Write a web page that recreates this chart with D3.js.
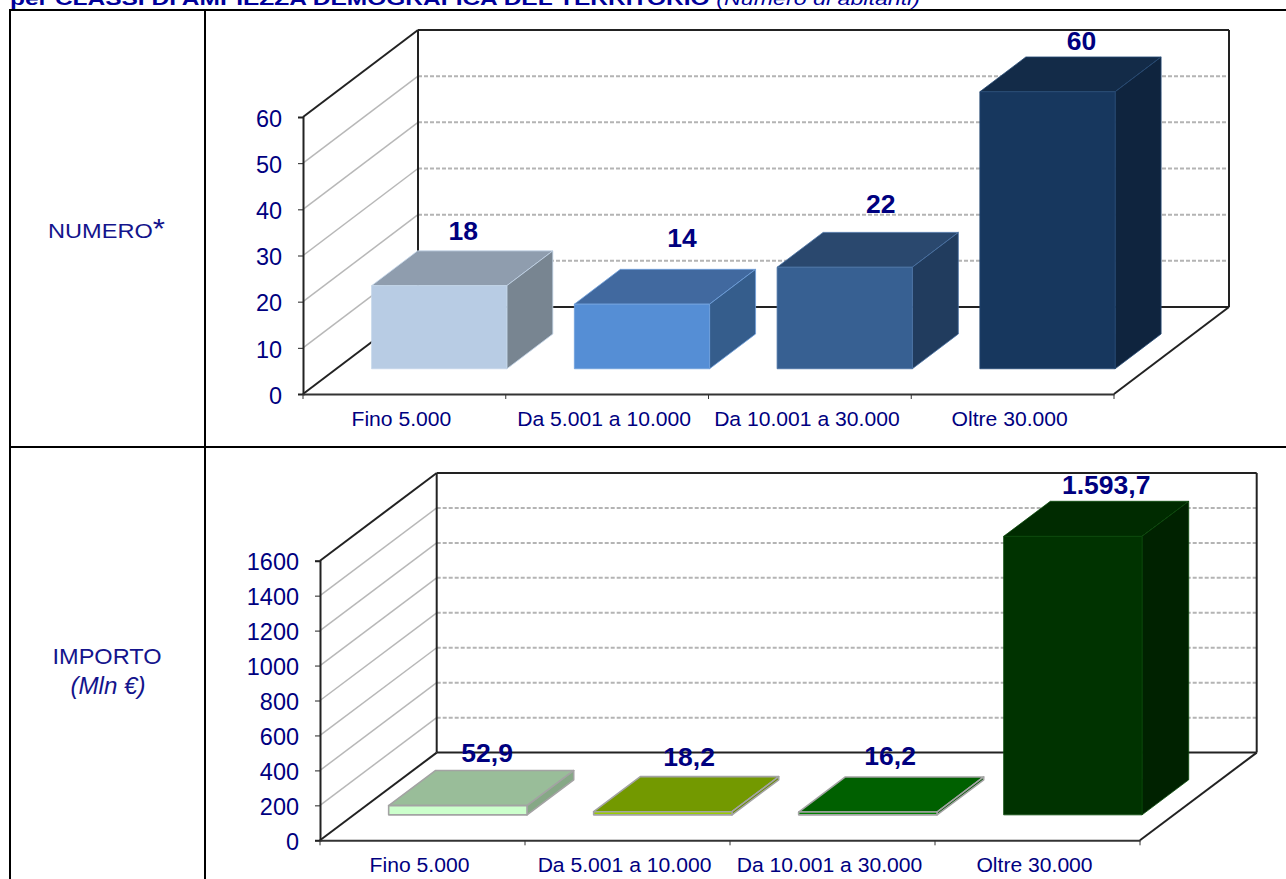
<!DOCTYPE html>
<html>
  <head>
    <meta charset="utf-8">
    <style>
      body { margin: 0; background: #fff; }
      text { font-family: "Liberation Sans", Arial, sans-serif; }
    </style>
  </head>
  <body>
    <svg id="chart" width="1286" height="879"></svg>
  </body>
  <script src="https://d3js.org/d3.v7.min.js"></script>
  <script type="text/javascript">
    var categories = ["Fino 5.000", "Da 5.001 a 10.000", "Da 10.001 a 30.000", "Oltre 30.000"];
    var numeroValues = [18, 14, 22, 60];
    var importoValues = [52.9, 18.2, 16.2, 1593.7];
    var numeroTicks = [0, 10, 20, 30, 40, 50, 60];
    var importoTicks = [0, 200, 400, 600, 800, 1000, 1200, 1400, 1600];

    var NAVY = "#00007f";

    var it = d3.formatLocale({ decimal: ",", thousands: ".", grouping: [3], currency: ["", " €"] });
    var svg = d3.select("#chart");

    // the source picture is a bit wider than it is tall
    function stretch(sel, k) {
      sel.each(function() {
        this.setAttribute("textLength", this.getComputedTextLength() * k);
        this.setAttribute("lengthAdjust", "spacingAndGlyphs");
      });
      return sel;
    }

    // table grid
    var grid = svg.append("g").attr("stroke", "#000").attr("stroke-width", 2);
    grid.append("line").attr("x1", 9).attr("x2", 1286).attr("y1", 10).attr("y2", 10);
    grid.append("line").attr("x1", 9).attr("x2", 1286).attr("y1", 447).attr("y2", 447);
    grid.append("line").attr("x1", 10).attr("x2", 10).attr("y1", 10).attr("y2", 879);
    grid.append("line").attr("x1", 205).attr("x2", 205).attr("y1", 10).attr("y2", 879);

    // title, cut by the top of the page as in the source
    var title = svg.append("text").attr("x", 10).attr("y", 5).attr("font-size", 19).attr("fill", "#000099");
    title.append("tspan").attr("font-weight", "bold").text("per CLASSI DI AMPIEZZA DEMOGRAFICA DEL TERRITORIO ");
    title.append("tspan").attr("font-style", "italic").attr("font-size", 18).text("(Numero di abitanti)");
    title.attr("textLength", 910).attr("lengthAdjust", "spacingAndGlyphs");

    // row headers
    var numLabel = svg.append("text").attr("x", 48).attr("y", 238).attr("font-size", 21).attr("fill", "#14148c");
    numLabel.append("tspan").text("NUMERO");
    numLabel.append("tspan").attr("font-size", 28).attr("dy", 0).text("*");
    numLabel.attr("textLength", 117).attr("lengthAdjust", "spacingAndGlyphs");
    stretch(svg.append("text").attr("x", 107).attr("y", 664).attr("text-anchor", "middle")
      .attr("font-size", 22).attr("fill", "#14148c").text("IMPORTO"), 1.07);
    stretch(svg.append("text").attr("x", 108).attr("y", 694).attr("text-anchor", "middle")
      .attr("font-size", 23).attr("font-style", "italic").attr("fill", "#14148c").text("(Mln €)"), 1.05);

    function drawChart(cfg) {
      var g = svg.append("g");
      var x = d3.scaleBand().domain(categories).range([cfg.left, cfg.right]);
      var y = d3.scaleLinear().domain([0, cfg.ticks[cfg.ticks.length - 1]]).range([cfg.bottom, cfg.top]);
      var band = x.bandwidth();

      // d is depth: 0 is the front plane, 1 the back wall
      function px(a, d) { return a + d * cfg.dx; }
      function py(a, d) { return a - d * cfg.dy; }
      function pts(list) {
        return list.map(function(p) { return px(p[0], p[2]) + "," + py(p[1], p[2]); }).join(" ");
      }

      var inner = cfg.ticks.slice(1, -1);

      // side wall lines
      g.selectAll(".side").data(inner).enter().append("line")
        .attr("x1", cfg.left).attr("y1", function(d) { return y(d); })
        .attr("x2", px(cfg.left, 1)).attr("y2", function(d) { return py(y(d), 1); })
        .attr("stroke", "#b8b8b8").attr("stroke-width", 1.5);

      // back wall dashed lines
      g.selectAll(".back").data(inner).enter().append("line")
        .attr("x1", px(cfg.left, 1)).attr("y1", function(d) { return py(y(d), 1); })
        .attr("x2", px(cfg.right, 1)).attr("y2", function(d) { return py(y(d), 1); })
        .attr("stroke", "#b4b4b4").attr("stroke-width", 2).attr("stroke-dasharray", "4,2");

      // box edges
      var edges = [
        [cfg.left, cfg.top, 0, cfg.left, cfg.top, 1],
        [cfg.left, cfg.bottom, 0, cfg.left, cfg.bottom, 1],
        [cfg.right, cfg.bottom, 0, cfg.right, cfg.bottom, 1],
        [cfg.left, cfg.top, 1, cfg.right, cfg.top, 1],
        [cfg.left, cfg.bottom, 1, cfg.right, cfg.bottom, 1],
        [cfg.left, cfg.top, 1, cfg.left, cfg.bottom, 1],
        [cfg.right, cfg.top, 1, cfg.right, cfg.bottom, 1]
      ];
      g.selectAll(".edge").data(edges).enter().append("line")
        .attr("x1", function(e) { return px(e[0], e[2]); })
        .attr("y1", function(e) { return py(e[1], e[2]); })
        .attr("x2", function(e) { return px(e[3], e[5]); })
        .attr("y2", function(e) { return py(e[4], e[5]); })
        .attr("stroke", "#222").attr("stroke-width", 2);

      // axes
      var yAxis = g.append("g").attr("transform", "translate(" + cfg.left + ",0)")
        .call(d3.axisLeft(y).tickValues(cfg.ticks).tickFormat(d3.format("d")).tickSize(5).tickPadding(cfg.tickPad));
      var xAxis = g.append("g").attr("transform", "translate(0," + cfg.bottom + ")")
        .call(d3.axisBottom(x).tickSize(0).tickPadding(17.5));
      yAxis.selectAll("path,line").attr("stroke", "#222").attr("stroke-width", 1);
      yAxis.select("path").attr("stroke-width", 2);
      xAxis.select("path").attr("stroke", "#333").attr("stroke-width", 2);
      yAxis.selectAll("text").attr("font-size", 23).attr("fill", NAVY).attr("dy", "0.4em");
      xAxis.selectAll("text").attr("font-size", 20.5).attr("fill", NAVY).attr("dx", -3);
      stretch(yAxis.selectAll("text"), 1.02);
      stretch(xAxis.selectAll("text"), 1.03);

      // x ticks sit on the band edges
      xAxis.selectAll(".edgeTick").data(categories.concat(["end"])).enter().append("line")
        .attr("x1", function(d, i) { return cfg.left + i * band; })
        .attr("x2", function(d, i) { return cfg.left + i * band; })
        .attr("y1", 0).attr("y2", 5).attr("stroke", "#333").attr("stroke-width", 1);

      // bars
      var barW = band * cfg.barShare;
      var d0 = cfg.barFront, d1 = cfg.barFront + cfg.barDepth;
      var bars = g.selectAll(".bar").data(cfg.values).enter().append("g");

      function xl(i) { return x(categories[i]) + (band - barW) / 2 + cfg.barShift; }

      bars.append("polygon") // top
        .attr("points", function(v, i) {
          return pts([[xl(i), y(v), d0], [xl(i) + barW, y(v), d0], [xl(i) + barW, y(v), d1], [xl(i), y(v), d1]]);
        })
        .attr("fill", function(v, i) { return cfg.colors[i][1]; });
      bars.append("polygon") // side
        .attr("points", function(v, i) {
          return pts([[xl(i) + barW, y(0), d0], [xl(i) + barW, y(v), d0], [xl(i) + barW, y(v), d1], [xl(i) + barW, y(0), d1]]);
        })
        .attr("fill", function(v, i) { return cfg.colors[i][2]; });
      bars.append("polygon") // front
        .attr("points", function(v, i) {
          return pts([[xl(i), y(0), d0], [xl(i) + barW, y(0), d0], [xl(i) + barW, y(v), d0], [xl(i), y(v), d0]]);
        })
        .attr("fill", function(v, i) { return cfg.colors[i][0]; });
      bars.selectAll("polygon")
        .attr("stroke", function() {
          var i = cfg.values.indexOf(d3.select(this.parentNode).datum());
          return cfg.colors[i][3];
        })
        .attr("stroke-width", function() {
          var i = cfg.values.indexOf(d3.select(this.parentNode).datum());
          return cfg.colors[i][4];
        })
        .attr("stroke-linejoin", "round");

      // value labels, hand placed in the source
      var labels = g.selectAll(".val").data(cfg.values).enter().append("text")
        .attr("text-anchor", "middle").attr("font-size", 26).attr("font-weight", "bold").attr("fill", NAVY)
        .attr("x", function(v, i) { return px(xl(i) + barW / 2, (d0 + d1) / 2) + cfg.labelShift[i][0]; })
        .attr("y", function(v, i) { return py(y(v), d1) + cfg.labelShift[i][1]; })
        .text(cfg.format);
      stretch(labels, 1.02);
    }

    drawChart({
      values: numeroValues,
      ticks: numeroTicks,
      format: it.format("d"),
      left: 303, right: 1114, top: 117, bottom: 394,
      dx: 115, dy: 87,
      barShare: 0.667, barFront: 0.29, barDepth: 0.4, barShift: 1.5,
      tickPad: 16,
      colors: [
        ["#b8cce4", "#8f9dae", "#788591", "#c4d5ea", 0.8],
        ["#558ed5", "#41699f", "#355d8c", "#6f9fdc", 0.8],
        ["#376092", "#2a486e", "#213c5e", "#4a72a4", 0.8],
        ["#17375e", "#132b48", "#0f243e", "#264a75", 0.8]
      ],
      labelShift: [[1, -11], [17, -22], [13, -19], [11, -7]]
    });

    drawChart({
      values: importoValues,
      ticks: importoTicks,
      format: it.format(",.1f"),
      left: 320, right: 1140, top: 560.7, bottom: 840.3,
      dx: 116.7, dy: 87.7,
      barShare: 0.675, barFront: 0.29, barDepth: 0.4, barShift: 1.5,
      tickPad: 16,
      colors: [
        ["#ccffcc", "#99bd99", "#86a886", "#a3a3a3", 1.6],
        ["#99cc00", "#739900", "#668800", "#a3a3a3", 1.6],
        ["#008000", "#006000", "#005000", "#a3a3a3", 1.6],
        ["#003300", "#002b00", "#002200", "#0a4a0a", 0.8]
      ],
      labelShift: [[6, -9], [3, -11], [-1, -12], [10, -7]]
    });
  </script>
</html>
